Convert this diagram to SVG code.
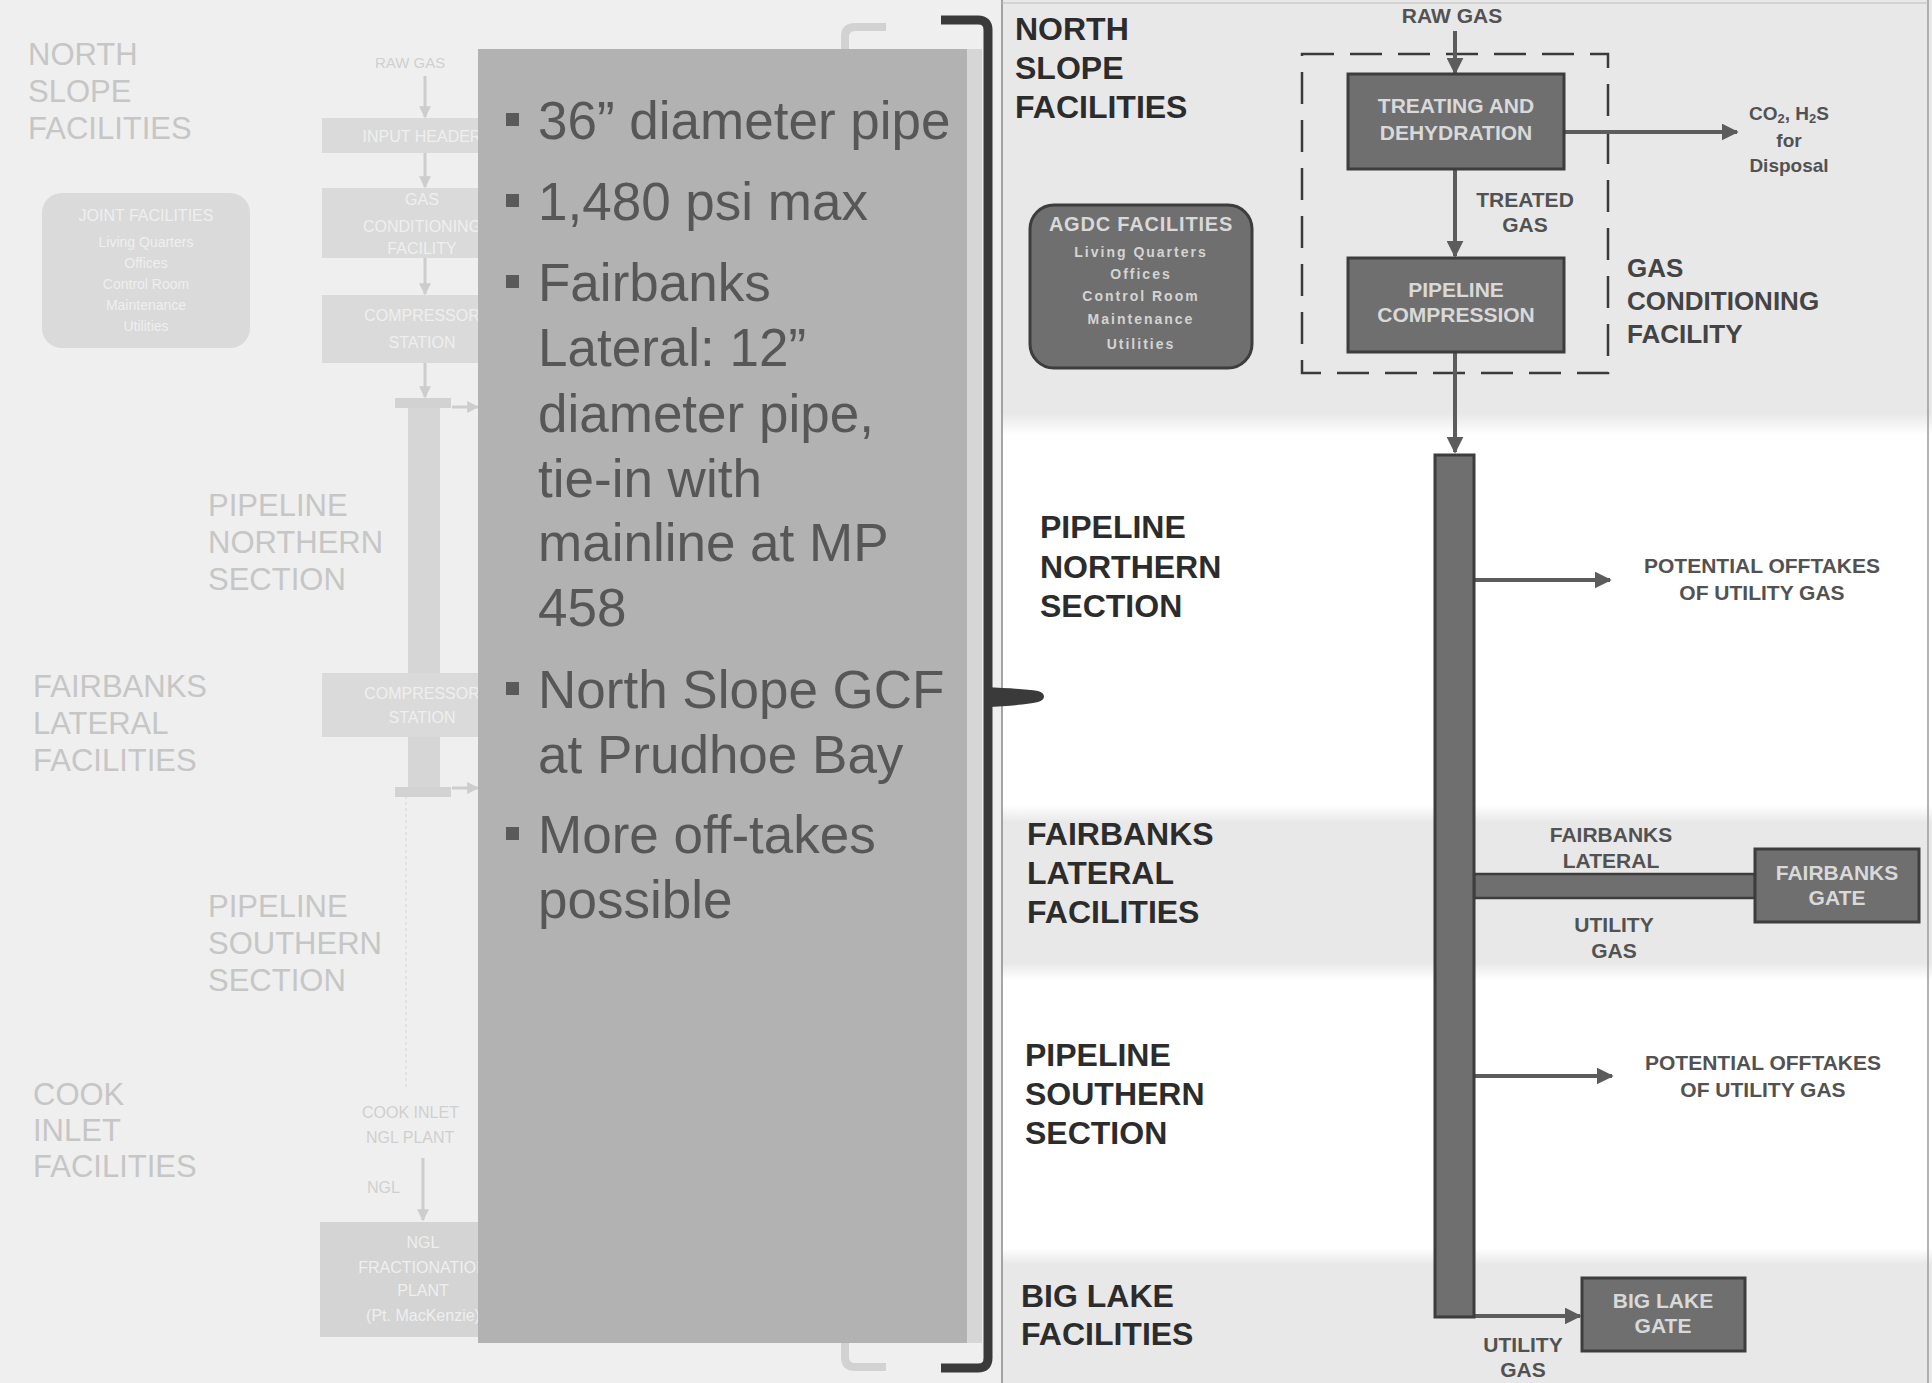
<svg xmlns="http://www.w3.org/2000/svg" width="1932" height="1383" viewBox="0 0 1932 1383">
<defs>
<style>
.f{font-family:'Liberation Sans',Arial,Helvetica,sans-serif}
.fade{font-family:'Liberation Sans',Arial,sans-serif;fill:#c6c6c6;font-size:31px}
.fbox{fill:#dadada}
.fbt{font-family:'Liberation Sans',Arial,sans-serif;fill:#efefef;font-size:16px;text-anchor:middle}
.fbs{font-family:'Liberation Sans',Arial,sans-serif;fill:#efefef;font-size:14px;text-anchor:middle}
.farr{stroke:#cdcdcd;stroke-width:3;fill:none}
.bul{font-family:'Liberation Sans',Arial,sans-serif;fill:#575757;font-size:53px}
.sec{font-family:'Liberation Sans',Arial,sans-serif;font-weight:bold;fill:#2c2c2c;font-size:32px}
.box{fill:#6f6f6f;stroke:#3d3d3d;stroke-width:3}
.bt{font-family:'Liberation Sans',Arial,sans-serif;font-weight:bold;fill:#d9d9d9;font-size:21px;text-anchor:middle}
.bs{font-family:'Liberation Sans',Arial,sans-serif;font-weight:bold;fill:#d4d4d4;font-size:14px;letter-spacing:2px;text-anchor:middle}
.lbl{font-family:'Liberation Sans',Arial,sans-serif;font-weight:bold;fill:#525252;font-size:21px;text-anchor:middle}
.lbs{font-family:'Liberation Sans',Arial,sans-serif;font-weight:bold;fill:#525252;font-size:19px;text-anchor:middle}
.arr{stroke:#5c5c5c;stroke-width:4;fill:none}
</style>
<marker id="ah" viewBox="0 0 10 10" refX="9" refY="5" markerWidth="17" markerHeight="17" markerUnits="userSpaceOnUse" orient="auto">
<path d="M0,0 L10,5 L0,10 Z" fill="#5c5c5c"/>
</marker>
<marker id="fah" viewBox="0 0 10 10" refX="9" refY="5" markerWidth="12" markerHeight="12" markerUnits="userSpaceOnUse" orient="auto">
<path d="M0,0 L10,5 L0,10 Z" fill="#cdcdcd"/>
</marker>
<clipPath id="leftclip"><rect x="0" y="0" width="478" height="1383"/></clipPath>
<linearGradient id="gN" x1="0" y1="0" x2="0" y2="1">
<stop offset="0" stop-color="#e8e8e8"/><stop offset="0.95" stop-color="#e8e8e8"/><stop offset="1" stop-color="#ffffff"/>
</linearGradient>
<linearGradient id="gF" x1="0" y1="0" x2="0" y2="1">
<stop offset="0" stop-color="#ffffff"/><stop offset="0.1" stop-color="#e8e8e8"/><stop offset="0.9" stop-color="#e8e8e8"/><stop offset="1" stop-color="#ffffff"/>
</linearGradient>
<linearGradient id="gB" x1="0" y1="0" x2="0" y2="1">
<stop offset="0" stop-color="#ffffff"/><stop offset="0.12" stop-color="#e8e8e8"/><stop offset="1" stop-color="#e8e8e8"/>
</linearGradient>
</defs>

<!-- backgrounds -->
<rect x="0" y="0" width="1932" height="1383" fill="#ededed"/>
<rect x="0" y="0" width="1002" height="1383" fill="#efefef"/>
<rect x="1002" y="0" width="930" height="1383" fill="#ffffff"/>
<rect x="1002" y="0" width="930" height="435" fill="url(#gN)"/>
<rect x="1002" y="805" width="930" height="175" fill="url(#gF)"/>
<rect x="1002" y="1248" width="930" height="135" fill="url(#gB)"/>
<line x1="1002" y1="0" x2="1002" y2="1383" stroke="#8a8a8a" stroke-width="1.5"/>
<line x1="1928" y1="0" x2="1928" y2="1383" stroke="#9a9a9a" stroke-width="1.5"/>
<line x1="1002" y1="3" x2="1928" y2="3" stroke="#bdbdbd" stroke-width="1"/>

<!-- faded left slide -->
<g id="faded-left" clip-path="url(#leftclip)">
<g id="fade-labels">
<text class="fade" x="28" y="65">NORTH</text>
<text class="fade" x="28" y="102">SLOPE</text>
<text class="fade" x="28" y="139">FACILITIES</text>
<text class="fade" x="208" y="516">PIPELINE</text>
<text class="fade" x="208" y="553">NORTHERN</text>
<text class="fade" x="208" y="590">SECTION</text>
<text class="fade" x="33" y="697">FAIRBANKS</text>
<text class="fade" x="33" y="734">LATERAL</text>
<text class="fade" x="33" y="771">FACILITIES</text>
<text class="fade" x="208" y="917">PIPELINE</text>
<text class="fade" x="208" y="954">SOUTHERN</text>
<text class="fade" x="208" y="991">SECTION</text>
<text class="fade" x="33" y="1105">COOK</text>
<text class="fade" x="33" y="1141">INLET</text>
<text class="fade" x="33" y="1177">FACILITIES</text>
</g>
<g id="fade-connectors">
<line class="farr" x1="425" y1="76" x2="425" y2="117" marker-end="url(#fah)"/>
<line class="farr" x1="425" y1="153" x2="425" y2="187" marker-end="url(#fah)"/>
<line class="farr" x1="425" y1="258" x2="425" y2="294" marker-end="url(#fah)"/>
<line class="farr" x1="425" y1="363" x2="425" y2="397" marker-end="url(#fah)"/>
<line class="farr" x1="452" y1="407" x2="478" y2="407" marker-end="url(#fah)"/>
<line class="farr" x1="452" y1="788" x2="478" y2="788" marker-end="url(#fah)"/>
<line x1="406" y1="796" x2="406" y2="1090" stroke="#e2e2e2" stroke-width="2" stroke-dasharray="3 3"/>
<line class="farr" x1="423" y1="1158" x2="423" y2="1220" marker-end="url(#fah)"/>
</g>
<text class="f" x="375" y="68" fill="#d0d0d0" font-size="15">RAW GAS</text>
<g id="fade-input-header"><rect class="fbox" x="322" y="118" width="200" height="35"/><text class="fbt" x="422" y="142">INPUT HEADER</text></g>
<g id="fade-gcf"><rect class="fbox" x="322" y="188" width="200" height="70"/><text class="fbt" x="422" y="205">GAS</text><text class="fbt" x="422" y="232">CONDITIONING</text><text class="fbt" x="422" y="254">FACILITY</text></g>
<g id="fade-comp1"><rect class="fbox" x="322" y="295" width="200" height="68"/><text class="fbt" x="422" y="321">COMPRESSOR</text><text class="fbt" x="422" y="348">STATION</text></g>
<g id="fade-joint"><rect class="fbox" x="42" y="193" width="208" height="155" rx="20"/>
<text class="fbt" x="146" y="221">JOINT FACILITIES</text>
<text class="fbs" x="146" y="247">Living Quarters</text>
<text class="fbs" x="146" y="268">Offices</text>
<text class="fbs" x="146" y="289">Control Room</text>
<text class="fbs" x="146" y="310">Maintenance</text>
<text class="fbs" x="146" y="331">Utilities</text></g>
<g id="fade-pipeline">
<rect x="408" y="400" width="32" height="395" fill="#d6d6d6"/>
<rect x="395" y="398" width="56" height="10" fill="#d2d2d2"/>
<rect x="395" y="787" width="56" height="10" fill="#d2d2d2"/>
</g>
<g id="fade-comp2"><rect class="fbox" x="322" y="673" width="200" height="64"/><text class="fbt" x="422" y="699">COMPRESSOR</text><text class="fbt" x="422" y="723">STATION</text></g>
<text class="f" x="362" y="1118" fill="#cfcfcf" font-size="16">COOK INLET</text>
<text class="f" x="366" y="1143" fill="#cfcfcf" font-size="16">NGL PLANT</text>
<text class="f" x="367" y="1193" fill="#cfcfcf" font-size="16">NGL</text>
<g id="fade-ngl"><rect x="320" y="1222" width="202" height="115" fill="#d4d4d4"/>
<text class="fbt" x="423" y="1248">NGL</text>
<text class="fbt" x="423" y="1273">FRACTIONATION</text>
<text class="fbt" x="423" y="1296">PLANT</text>
<text class="fbt" x="423" y="1321">(Pt. MacKenzie)</text></g>
</g>

<!-- faint left bracket remnants -->
<path d="M886 27 L855 27 Q845 27 845 37 L845 50" fill="none" stroke="#d2d2d2" stroke-width="8"/>
<path d="M845 1343 L845 1357 Q845 1367 855 1367 L886 1367" fill="none" stroke="#d2d2d2" stroke-width="8"/>

<!-- grey overlay box with bullets -->
<g id="bullet-box">
<rect x="478" y="49" width="489" height="1294" fill="#b2b2b2"/>
<rect x="967" y="49" width="15" height="1294" fill="#d6d6d6"/>
<g fill="#5a5a5a">
<rect x="506" y="113" width="13" height="13"/>
<rect x="506" y="194" width="13" height="13"/>
<rect x="506" y="275" width="13" height="13"/>
<rect x="506" y="682" width="13" height="13"/>
<rect x="506" y="827" width="13" height="13"/>
</g>
<text class="bul" x="538" y="139">36” diameter pipe</text>
<text class="bul" x="538" y="220">1,480 psi max</text>
<text class="bul" x="538" y="301">Fairbanks</text>
<text class="bul" x="538" y="366">Lateral: 12”</text>
<text class="bul" x="538" y="432">diameter pipe,</text>
<text class="bul" x="538" y="497">tie-in with</text>
<text class="bul" x="538" y="561">mainline at MP</text>
<text class="bul" x="538" y="626">458</text>
<text class="bul" x="538" y="708">North Slope GCF</text>
<text class="bul" x="538" y="773">at Prudhoe Bay</text>
<text class="bul" x="538" y="853">More off-takes</text>
<text class="bul" x="538" y="918">possible</text>
</g>

<!-- bracket -->
<g id="bracket" fill="none" stroke="#3a3a3a" stroke-width="9">
<path d="M941 20 L978 20 Q988 20 988 30 L988 1358 Q988 1368 978 1368 L941 1368"/>
<path d="M986 687 C1005 688 1025 689 1038 691 C1046 693 1046 700 1038 702 C1025 705 1005 706 986 707 Z" fill="#3a3a3a" stroke="none"/>
</g>

<!-- section labels -->
<g id="section-labels">
<text class="sec" x="1015" y="40">NORTH</text>
<text class="sec" x="1015" y="79">SLOPE</text>
<text class="sec" x="1015" y="118">FACILITIES</text>
<text class="sec" x="1040" y="538">PIPELINE</text>
<text class="sec" x="1040" y="578">NORTHERN</text>
<text class="sec" x="1040" y="617">SECTION</text>
<text class="sec" x="1027" y="845">FAIRBANKS</text>
<text class="sec" x="1027" y="884">LATERAL</text>
<text class="sec" x="1027" y="923">FACILITIES</text>
<text class="sec" x="1025" y="1066">PIPELINE</text>
<text class="sec" x="1025" y="1105">SOUTHERN</text>
<text class="sec" x="1025" y="1144">SECTION</text>
<text class="sec" x="1021" y="1307">BIG LAKE</text>
<text class="sec" x="1021" y="1345">FACILITIES</text>
</g>

<!-- dashed GCF boundary -->
<g id="gcf-boundary">
<rect x="1302" y="54" width="306" height="319" fill="none" stroke="#3a3a3a" stroke-width="2.5" stroke-dasharray="32 16"/>
<text class="f" x="1627" y="277" font-size="26" font-weight="bold" fill="#444">GAS</text>
<text class="f" x="1627" y="310" font-size="26" font-weight="bold" fill="#444">CONDITIONING</text>
<text class="f" x="1627" y="343" font-size="26" font-weight="bold" fill="#444">FACILITY</text>
</g>

<!-- connectors -->
<g id="connectors">
<line class="arr" x1="1455" y1="31" x2="1455" y2="73" marker-end="url(#ah)"/>
<line class="arr" x1="1455" y1="169" x2="1455" y2="256" marker-end="url(#ah)"/>
<line class="arr" x1="1455" y1="352" x2="1455" y2="452" marker-end="url(#ah)"/>
<line class="arr" x1="1564" y1="132" x2="1737" y2="132" stroke-width="5" marker-end="url(#ah)"/>
<line class="arr" x1="1475" y1="580" x2="1610" y2="580" stroke-width="5" marker-end="url(#ah)"/>
<line class="arr" x1="1475" y1="1076" x2="1612" y2="1076" stroke-width="5" marker-end="url(#ah)"/>
<line class="arr" x1="1475" y1="1316" x2="1580" y2="1316" stroke-width="5" marker-end="url(#ah)"/>
<rect x="1474" y="874" width="281" height="24" fill="#6f6f6f" stroke="#3d3d3d" stroke-width="2.5"/>
</g>

<!-- labels on connectors -->
<text class="lbl" x="1452" y="23">RAW GAS</text>
<text class="lbl" x="1525" y="207">TREATED</text>
<text class="lbl" x="1525" y="232">GAS</text>
<text class="lbs" x="1789" y="120">CO<tspan font-size="13" dy="3">2</tspan><tspan dy="-3">, H</tspan><tspan font-size="13" dy="3">2</tspan><tspan dy="-3">S</tspan></text>
<text class="lbs" x="1789" y="147">for</text>
<text class="lbs" x="1789" y="172">Disposal</text>
<text class="lbl" x="1762" y="573">POTENTIAL OFFTAKES</text>
<text class="lbl" x="1762" y="600">OF UTILITY GAS</text>
<text class="lbl" x="1611" y="842">FAIRBANKS</text>
<text class="lbl" x="1611" y="868">LATERAL</text>
<text class="lbl" x="1614" y="932">UTILITY</text>
<text class="lbl" x="1614" y="958">GAS</text>
<text class="lbl" x="1763" y="1070">POTENTIAL OFFTAKES</text>
<text class="lbl" x="1763" y="1097">OF UTILITY GAS</text>
<text class="lbl" x="1523" y="1352">UTILITY</text>
<text class="lbl" x="1523" y="1377">GAS</text>

<!-- nodes -->
<g id="treating">
<rect class="box" x="1348" y="74" width="216" height="95"/>
<text class="bt" x="1456" y="113">TREATING AND</text>
<text class="bt" x="1456" y="140">DEHYDRATION</text>
</g>
<g id="compression">
<rect class="box" x="1348" y="258" width="216" height="94"/>
<text class="bt" x="1456" y="297">PIPELINE</text>
<text class="bt" x="1456" y="322">COMPRESSION</text>
</g>
<g id="agdc">
<rect class="box" x="1030" y="205" width="222" height="163" rx="24"/>
<text class="bt" x="1141" y="231" style="font-size:20px;letter-spacing:0.8px">AGDC FACILITIES</text>
<text class="bs" x="1141" y="257">Living Quarters</text>
<text class="bs" x="1141" y="279">Offices</text>
<text class="bs" x="1141" y="301">Control Room</text>
<text class="bs" x="1141" y="324">Maintenance</text>
<text class="bs" x="1141" y="349">Utilities</text>
</g>
<g id="mainline">
<rect class="box" x="1435" y="455" width="39" height="862"/>
</g>
<g id="fairbanks-gate">
<rect class="box" x="1755" y="849" width="164" height="73"/>
<text class="bt" x="1837" y="880">FAIRBANKS</text>
<text class="bt" x="1837" y="905">GATE</text>
</g>
<g id="big-lake-gate">
<rect class="box" x="1582" y="1278" width="163" height="73"/>
<text class="bt" x="1663" y="1308">BIG LAKE</text>
<text class="bt" x="1663" y="1333">GATE</text>
</g>
</svg>
